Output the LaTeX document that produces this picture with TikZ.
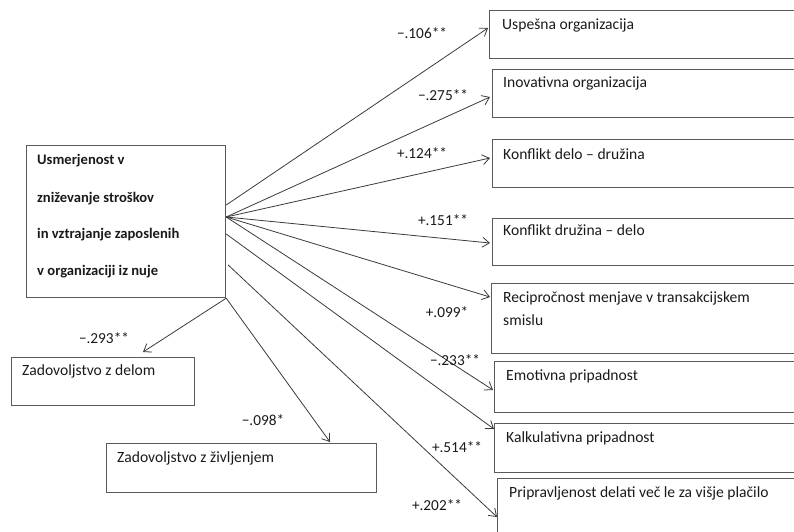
\documentclass[tikz,border=0pt]{standalone}
\usepackage{fontspec}
\setmainfont{Carlito}
\usetikzlibrary{arrows.meta,calc}
\definecolor{boxc}{HTML}{5A5A5A}
\definecolor{linec}{HTML}{3A3A3A}
\definecolor{txtc}{HTML}{1A1A1A}
\tikzset{
  box/.style={draw=boxc, line width=1.2pt, anchor=north west, inner sep=0pt},
  txt/.style={anchor=mid west, inner sep=0pt, text=txtc, font=\fontsize{15.6}{18}\selectfont},
  btxt/.style={txt, font=\fontsize{14.6}{18}\selectfont\bfseries},
  coef/.style={inner sep=0pt, text=txtc, font=\fontsize{15.3}{18}\selectfont},
  arr/.style={draw=linec, line width=0.8pt, -{Straight Barb[length=7pt,width=10pt,line width=0.8pt]}}
}
\begin{document}
\begin{tikzpicture}[x=1pt,y=-1pt]
\useasboundingbox (0,0) rectangle (794,531);
\clip (0,0) rectangle (794,531);
% main box
\node[box, minimum width=199pt, minimum height=152pt] (main) at (26,145) {};
\node[btxt] (m1) at (37,162) {Usmerjenost v};
\node[btxt] (m2) at (37,200) {zniževanje stroškov};
\node[btxt] (m3) at (37,236) {in vztrajanje zaposlenih};
\node[btxt] (m4) at (37,273) {v organizaciji iz nuje};
% right boxes
\node[box, minimum width=330pt, minimum height=48pt] (b1) at (489,10) {};
\node[txt] (t1) at (502,27) {Uspešna organizacija};
\node[box, minimum width=330pt, minimum height=48pt] (b2) at (492,69) {};
\node[txt] (t2) at (503,85) {Inovativna organizacija};
\node[box, minimum width=330pt, minimum height=48pt] (b3) at (492,139) {};
\node[txt] (t3) at (503,157) {Konflikt delo – družina};
\node[box, minimum width=330pt, minimum height=47pt] (b4) at (492,218) {};
\node[txt] (t4) at (503,233) {Konflikt družina – delo};
\node[box, minimum width=330pt, minimum height=70pt] (b5) at (491,283) {};
\node[txt] (t5a) at (503,300) {Recipročnost menjave v transakcijskem};
\node[txt] (t5b) at (503,323) {smislu};
\node[box, minimum width=330pt, minimum height=51pt] (b6) at (494,361) {};
\node[txt] (t6) at (506,378) {Emotivna pripadnost};
\node[box, minimum width=330pt, minimum height=49pt] (b7) at (494,423) {};
\node[txt] (t7) at (506,440) {Kalkulativna pripadnost};
\node[box, minimum width=330pt, minimum height=70pt] (b8) at (497,478) {};
\node[txt] (t8) at (509,495) {Pripravljenost delati več le za višje plačilo};
% left boxes
\node[box, minimum width=183pt, minimum height=48pt] (z1) at (11,357) {};
\node[txt] (tz1) at (22,373) {Zadovoljstvo z delom};
\node[box, minimum width=270pt, minimum height=49pt] (z2) at (106,443) {};
\node[txt] (tz2) at (117,460) {Zadovoljstvo z življenjem};
% origins
\coordinate (o1) at ($(main.north east)+(0,60)$);
\coordinate (o2) at ($(main.north east)+(0,72)$);
\coordinate (o3) at ($(main.north east)+(0,89)$);
\coordinate (o4) at ($(main.north east)+(2,120)$);
\coordinate (o5) at (main.south east);
% arrows
\draw[arr] (o1) -- ($(b1.north west)+(-1,18)$);
\draw[arr] (o2) -- ($(b2.north west)+(-2,28)$);
\draw[arr] (o2) -- ($(b3.north west)+(-2,19)$);
\draw[arr] (o2) -- ($(b4.north west)+(-2,25)$);
\draw[arr] (o2) -- ($(b5.north west)+(-1,14)$);
\draw[arr] (o2) -- ($(b6.north west)+(-1,29)$);
\draw[arr] (o3) -- ($(b7.north west)+(0,6)$);
\draw[arr] (o4) -- ($(b8.north west)+(0,39)$);
\draw[arr] (o5) -- ($(z1.north west)+(132,-5)$);
\draw[arr] (o5) -- ($(z2.north west)+(224,-1)$);
% coefficients
\node[coef] (c1) at (422,33) {−.106**};
\node[coef] (c2) at (443,95) {−.275**};
\node[coef] (c3) at (422,153) {+.124**};
\node[coef] (c4) at (443,220) {+.151**};
\node[coef] (c5) at (447,312) {+.099*};
\node[coef] (c6) at (455,360) {−.233**};
\node[coef] (c7) at (457,447) {+.514**};
\node[coef] (c8) at (437,505) {+.202**};
\node[coef] (c9) at (263,420) {−.098*};
\node[coef] (c10) at (104,338) {−.293**};
\end{tikzpicture}
\end{document}
